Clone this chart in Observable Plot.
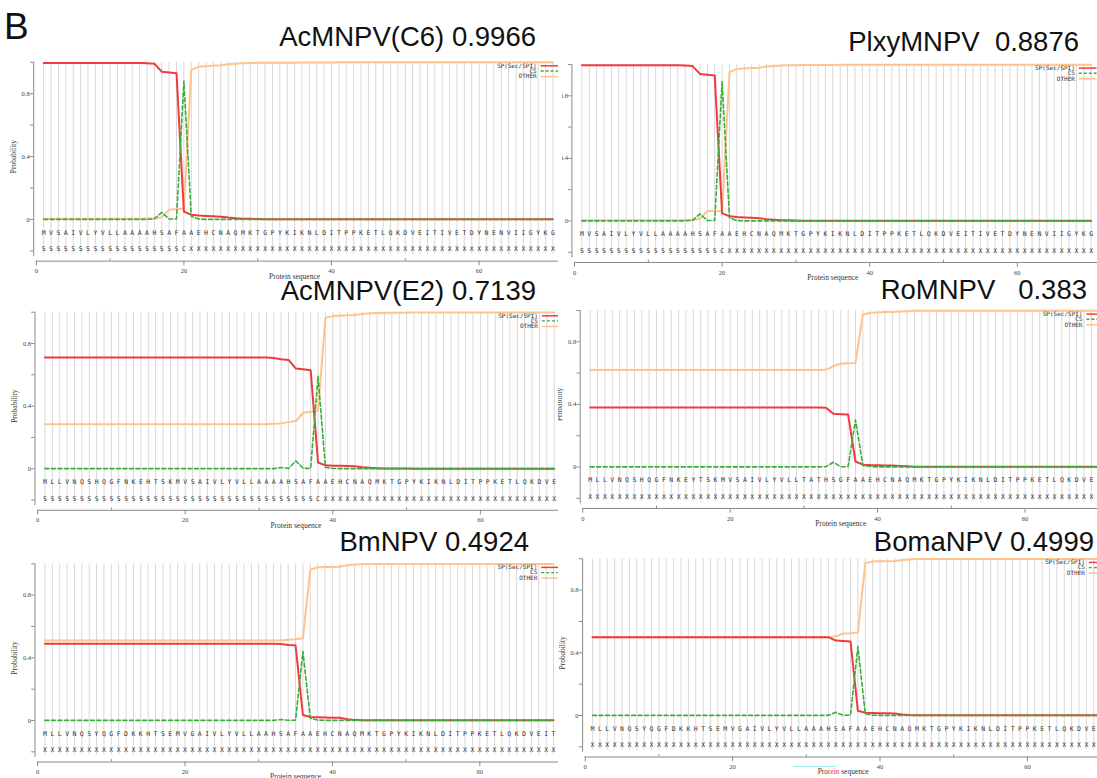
<!DOCTYPE html>
<html><head><meta charset="utf-8">
<script src="https://cdn.jsdelivr.net/npm/d3@7"></script>
<script src="https://cdn.jsdelivr.net/npm/@observablehq/plot@0.6"></script>
<style>
body{margin:0;background:#fff;}
#fig{position:relative;width:1097px;height:778px;overflow:hidden;background:#fff;font-family:"Liberation Sans",Arial,sans-serif;}
.panel{position:absolute;overflow:hidden;}
.title{position:absolute;font-size:27.5px;line-height:20px;white-space:pre;color:#111;text-align:right;}
.letter{position:absolute;font-size:37px;line-height:37px;color:#111;}
</style></head><body><div id="fig"></div>
<script>
// ---------------- DATA ----------------
const positions = d3.range(1, 71);
const yTickValues = [-0.2, 0, 0.2, 0.4, 0.6, 0.8, 1.0];
const yTickLabels = ["", "0", "", "0.4", "", "0.8", ""];
const xMajorTicks = [0, 20, 40, 60];
const xMinorTicks = [10, 30, 50];
const legendLabels = ["SP(Sec/SPI)", "CS", "OTHER"];

const titles = ["AcMNPV(C6) 0.9966", "PlxyMNPV  0.8876", "AcMNPV(E2) 0.7139", "RoMNPV   0.383", "BmNPV 0.4924", "BomaNPV 0.4999"];

const seq1 = "MVSAIVLYVLLAAAAHSAFAAEHCNAQMKTGPYKIKNLDITPPKETLQKDVEITIVETDYNENVIIGYKG";
const ann1 = "SSSSSSSSSSSSSSSSSSSCXXXXXXXXXXXXXXXXXXXXXXXXXXXXXXXXXXXXXXXXXXXXXXXXXX";
const sp1 = [0.995,0.995,0.995,0.995,0.995,0.995,0.995,0.995,0.995,0.995,
 0.995,0.995,0.995,0.995,0.993,0.990,0.940,0.935,0.930,0.050,
 0.030,0.025,0.022,0.020,0.018,0.012,0.008,0.005,0.004,0.003,
 0.002,0.002,0.002,0.002,0.002,0.001,0.001,0.001,0.001,0.001,
 0.001,0.001,0.001,0.001,0.001,0.001,0.001,0.001,0.001,0.001,
 0.001,0.001,0.001,0.001,0.001,0.001,0.001,0.001,0.001,0.001,
 0.001,0.001,0.001,0.001,0.001,0.001,0.001,0.001,0.001,0.001];
const cs1 = [0.001,0.001,0.001,0.001,0.001,0.001,0.001,0.001,0.001,0.001,
 0.001,0.001,0.001,0.001,0.001,0.005,0.045,0.003,0.003,0.880,
 0.020,0.003,0.001,0.001,0.001,0.001,0.001,0.001,0.001,0.001,
 0.001,0.001,0.001,0.001,0.001,0.001,0.001,0.001,0.001,0.001,
 0.001,0.001,0.001,0.001,0.001,0.001,0.001,0.001,0.001,0.001,
 0.001,0.001,0.001,0.001,0.001,0.001,0.001,0.001,0.001,0.001,
 0.001,0.001,0.001,0.001,0.001,0.001,0.001,0.001,0.001,0.001];
const other1 = [0.004,0.004,0.004,0.004,0.004,0.004,0.004,0.004,0.004,0.004,
 0.004,0.004,0.004,0.004,0.006,0.005,0.015,0.062,0.067,0.070,
 0.950,0.972,0.975,0.978,0.980,0.987,0.990,0.994,0.995,0.996,
 0.997,0.997,0.997,0.997,0.997,0.998,0.998,0.998,0.998,0.998,
 0.999,0.999,0.999,0.999,0.999,0.999,0.999,0.999,0.999,0.999,
 0.999,0.999,0.999,0.999,0.999,0.999,0.999,0.999,0.999,0.999,
 0.999,0.999,0.999,0.999,0.999,0.999,0.999,0.999,0.999,0.999];

const seq2 = "MVSAIVLYVLLAAAAHSAFAAEHCNAQMKTGPYKIKNLDITPPKETLQKDVEITIVETDYNENVIIGYKG";
const ann2 = "SSSSSSSSSSSSSSSSSSSCXXXXXXXXXXXXXXXXXXXXXXXXXXXXXXXXXXXXXXXXXXXXXXXXXX";
const sp2 = [0.995,0.995,0.995,0.995,0.995,0.995,0.995,0.995,0.995,0.995,
 0.995,0.995,0.995,0.995,0.993,0.990,0.940,0.935,0.930,0.050,
 0.030,0.025,0.022,0.020,0.018,0.012,0.008,0.005,0.004,0.003,
 0.002,0.002,0.002,0.002,0.002,0.001,0.001,0.001,0.001,0.001,
 0.001,0.001,0.001,0.001,0.001,0.001,0.001,0.001,0.001,0.001,
 0.001,0.001,0.001,0.001,0.001,0.001,0.001,0.001,0.001,0.001,
 0.001,0.001,0.001,0.001,0.001,0.001,0.001,0.001,0.001,0.001];
const cs2 = [0.001,0.001,0.001,0.001,0.001,0.001,0.001,0.001,0.001,0.001,
 0.001,0.001,0.001,0.001,0.001,0.005,0.045,0.003,0.003,0.890,
 0.020,0.003,0.001,0.001,0.001,0.001,0.001,0.001,0.001,0.001,
 0.001,0.001,0.001,0.001,0.001,0.001,0.001,0.001,0.001,0.001,
 0.001,0.001,0.001,0.001,0.001,0.001,0.001,0.001,0.001,0.001,
 0.001,0.001,0.001,0.001,0.001,0.001,0.001,0.001,0.001,0.001,
 0.001,0.001,0.001,0.001,0.001,0.001,0.001,0.001,0.001,0.001];
const other2 = [0.004,0.004,0.004,0.004,0.004,0.004,0.004,0.004,0.004,0.004,
 0.004,0.004,0.004,0.004,0.006,0.005,0.015,0.062,0.067,0.060,
 0.950,0.972,0.975,0.978,0.980,0.987,0.990,0.994,0.995,0.996,
 0.997,0.997,0.997,0.997,0.997,0.998,0.998,0.998,0.998,0.998,
 0.999,0.999,0.999,0.999,0.999,0.999,0.999,0.999,0.999,0.999,
 0.999,0.999,0.999,0.999,0.999,0.999,0.999,0.999,0.999,0.999,
 0.999,0.999,0.999,0.999,0.999,0.999,0.999,0.999,0.999,0.999];

const seq3 = "MLLVNQSHQGFNKEHTSKMVSAIVLYVLLAAAAHSAFAAEHCNAQMKTGPYKIKNLDITPPKETLQKDVE";
const ann3 = "SSSSSSSSSSSSSSSSSSSSSSSSSSSSSSSSSSSSSCXXXXXXXXXXXXXXXXXXXXXXXXXXXXXXXX";
const sp3 = [0.710,0.710,0.710,0.710,0.710,0.710,0.710,0.710,0.710,0.710,
 0.710,0.710,0.710,0.710,0.710,0.710,0.710,0.710,0.710,0.710,
 0.710,0.710,0.710,0.710,0.710,0.710,0.710,0.710,0.710,0.710,
 0.710,0.708,0.700,0.695,0.640,0.635,0.630,0.040,0.022,0.020,
 0.019,0.018,0.017,0.010,0.006,0.004,0.002,0.002,0.002,0.002,
 0.001,0.001,0.001,0.001,0.001,0.001,0.001,0.001,0.001,0.001,
 0.001,0.001,0.001,0.001,0.001,0.001,0.001,0.001,0.001,0.001];
const cs3 = [0.001,0.001,0.001,0.001,0.001,0.001,0.001,0.001,0.001,0.001,
 0.001,0.001,0.001,0.001,0.001,0.001,0.001,0.001,0.001,0.001,
 0.001,0.001,0.001,0.001,0.001,0.001,0.001,0.001,0.001,0.001,
 0.001,0.001,0.008,0.003,0.050,0.003,0.003,0.590,0.010,0.002,
 0.001,0.001,0.001,0.001,0.001,0.001,0.001,0.001,0.001,0.001,
 0.001,0.001,0.001,0.001,0.001,0.001,0.001,0.001,0.001,0.001,
 0.001,0.001,0.001,0.001,0.001,0.001,0.001,0.001,0.001,0.001];
const other3 = [0.285,0.285,0.285,0.285,0.285,0.285,0.285,0.285,0.285,0.285,
 0.285,0.285,0.285,0.285,0.285,0.285,0.285,0.285,0.285,0.285,
 0.285,0.285,0.285,0.285,0.285,0.285,0.285,0.285,0.285,0.285,
 0.285,0.287,0.290,0.298,0.305,0.358,0.365,0.370,0.965,0.975,
 0.978,0.980,0.982,0.988,0.993,0.995,0.997,0.997,0.997,0.997,
 0.998,0.998,0.998,0.998,0.998,0.998,0.998,0.998,0.998,0.998,
 0.998,0.998,0.998,0.998,0.998,0.998,0.998,0.998,0.998,0.998];

const seq4 = "MLLVNQSHQGFNKEYTSKMVSAIVLYVLLTATHSGFAAEHCNAQMKTGPYKIKNLDITPPKETLQKDVEI";
const ann4 = "XXXXXXXXXXXXXXXXXXXXXXXXXXXXXXXXXXXXXXXXXXXXXXXXXXXXXXXXXXXXXXXXXXXXXX";
const sp4 = [0.380,0.380,0.380,0.380,0.380,0.380,0.380,0.380,0.380,0.380,
 0.380,0.380,0.380,0.380,0.380,0.380,0.380,0.380,0.380,0.380,
 0.380,0.380,0.380,0.380,0.380,0.380,0.380,0.380,0.380,0.380,
 0.380,0.380,0.378,0.340,0.337,0.335,0.035,0.015,0.012,0.011,
 0.010,0.009,0.006,0.004,0.002,0.002,0.002,0.002,0.002,0.001,
 0.001,0.001,0.001,0.001,0.001,0.001,0.001,0.001,0.001,0.001,
 0.001,0.001,0.001,0.001,0.001,0.001,0.001,0.001,0.001,0.001];
const cs4 = [0.001,0.001,0.001,0.001,0.001,0.001,0.001,0.001,0.001,0.001,
 0.001,0.001,0.001,0.001,0.001,0.001,0.001,0.001,0.001,0.001,
 0.001,0.001,0.001,0.001,0.001,0.001,0.001,0.001,0.001,0.001,
 0.001,0.001,0.002,0.030,0.002,0.002,0.300,0.010,0.003,0.001,
 0.001,0.001,0.001,0.001,0.001,0.001,0.001,0.001,0.001,0.001,
 0.001,0.001,0.001,0.001,0.001,0.001,0.001,0.001,0.001,0.001,
 0.001,0.001,0.001,0.001,0.001,0.001,0.001,0.001,0.001,0.001];
const other4 = [0.620,0.620,0.620,0.620,0.620,0.620,0.620,0.620,0.620,0.620,
 0.620,0.620,0.620,0.620,0.620,0.620,0.620,0.620,0.620,0.620,
 0.620,0.620,0.620,0.620,0.620,0.620,0.620,0.620,0.620,0.620,
 0.620,0.620,0.621,0.645,0.660,0.663,0.665,0.975,0.985,0.987,
 0.990,0.991,0.994,0.996,0.998,0.998,0.998,0.998,0.998,0.998,
 0.999,0.999,0.999,0.999,0.999,0.999,0.999,0.999,0.999,0.999,
 0.999,0.999,0.999,0.999,0.999,0.999,0.999,0.999,0.999,0.999];

const seq5 = "MLLVNQSYQGFDKKHTSEMVGAIVLYVLLAAHSAFAAEHCNAQMKTGPYKIKNLDITPPKETLQKDVEIT";
const ann5 = "XXXXXXXXXXXXXXXXXXXXXXXXXXXXXXXXXXXXXXXXXXXXXXXXXXXXXXXXXXXXXXXXXXXXXX";
const sp5 = [0.490,0.490,0.490,0.490,0.490,0.490,0.490,0.490,0.490,0.490,
 0.490,0.490,0.490,0.490,0.490,0.490,0.490,0.490,0.490,0.490,
 0.490,0.490,0.490,0.490,0.490,0.490,0.490,0.490,0.490,0.490,
 0.490,0.490,0.488,0.482,0.480,0.035,0.022,0.020,0.019,0.018,
 0.017,0.008,0.004,0.002,0.002,0.002,0.002,0.001,0.001,0.001,
 0.001,0.001,0.001,0.001,0.001,0.001,0.001,0.001,0.001,0.001,
 0.001,0.001,0.001,0.001,0.001,0.001,0.001,0.001,0.001,0.001];
const cs5 = [0.001,0.001,0.001,0.001,0.001,0.001,0.001,0.001,0.001,0.001,
 0.001,0.001,0.001,0.001,0.001,0.001,0.001,0.001,0.001,0.001,
 0.001,0.001,0.001,0.001,0.001,0.001,0.001,0.001,0.001,0.001,
 0.001,0.001,0.006,0.002,0.002,0.440,0.015,0.003,0.001,0.001,
 0.001,0.001,0.001,0.001,0.001,0.001,0.001,0.001,0.001,0.001,
 0.001,0.001,0.001,0.001,0.001,0.001,0.001,0.001,0.001,0.001,
 0.001,0.001,0.001,0.001,0.001,0.001,0.001,0.001,0.001,0.001];
const other5 = [0.510,0.510,0.510,0.510,0.510,0.510,0.510,0.510,0.510,0.510,
 0.510,0.510,0.510,0.510,0.510,0.510,0.510,0.510,0.510,0.510,
 0.510,0.510,0.510,0.510,0.510,0.510,0.510,0.510,0.510,0.510,
 0.510,0.510,0.510,0.515,0.518,0.525,0.963,0.977,0.979,0.980,
 0.981,0.990,0.995,0.997,0.998,0.998,0.998,0.998,0.998,0.998,
 0.999,0.999,0.999,0.999,0.999,0.999,0.999,0.999,0.999,0.999,
 0.999,0.999,0.999,0.999,0.999,0.999,0.999,0.999,0.999,0.999];

const seq6 = "MLLVNQSYQGFDKKHTSEMVGAIVLYVLLAAAHSAFAAEHCNAQMKTGPYKIKNLDITPPKETLQKDVEI";
const ann6 = "XXXXXXXXXXXXXXXXXXXXXXXXXXXXXXXXXXXXXXXXXXXXXXXXXXXXXXXXXXXXXXXXXXXXXX";
const sp6 = [0.500,0.500,0.500,0.500,0.500,0.500,0.500,0.500,0.500,0.500,
 0.500,0.500,0.500,0.500,0.500,0.500,0.500,0.500,0.500,0.500,
 0.500,0.500,0.500,0.500,0.500,0.500,0.500,0.500,0.500,0.500,
 0.500,0.500,0.500,0.478,0.475,0.473,0.030,0.018,0.016,0.015,
 0.014,0.013,0.006,0.003,0.002,0.002,0.002,0.001,0.001,0.001,
 0.001,0.001,0.001,0.001,0.001,0.001,0.001,0.001,0.001,0.001,
 0.001,0.001,0.001,0.001,0.001,0.001,0.001,0.001,0.001,0.001];
const cs6 = [0.001,0.001,0.001,0.001,0.001,0.001,0.001,0.001,0.001,0.001,
 0.001,0.001,0.001,0.001,0.001,0.001,0.001,0.001,0.001,0.001,
 0.001,0.001,0.001,0.001,0.001,0.001,0.001,0.001,0.001,0.001,
 0.001,0.001,0.001,0.020,0.002,0.002,0.440,0.010,0.002,0.001,
 0.001,0.001,0.001,0.001,0.001,0.001,0.001,0.001,0.001,0.001,
 0.001,0.001,0.001,0.001,0.001,0.001,0.001,0.001,0.001,0.001,
 0.001,0.001,0.001,0.001,0.001,0.001,0.001,0.001,0.001,0.001];
const other6 = [0.500,0.500,0.500,0.500,0.500,0.500,0.500,0.500,0.500,0.500,
 0.500,0.500,0.500,0.500,0.500,0.500,0.500,0.500,0.500,0.500,
 0.500,0.500,0.500,0.500,0.500,0.500,0.500,0.500,0.500,0.500,
 0.500,0.500,0.500,0.505,0.523,0.525,0.530,0.972,0.982,0.984,
 0.985,0.986,0.993,0.996,0.998,0.998,0.998,0.998,0.998,0.998,
 0.999,0.999,0.999,0.999,0.999,0.999,0.999,0.999,0.999,0.999,
 0.999,0.999,0.999,0.999,0.999,0.999,0.999,0.999,0.999,0.999];

// ---------------- LAYOUT / STYLE ----------------
const RED = "#f03a3f", GREEN = "#3aad3a", ORANGE = "#fdc48e", AXIS = "#8a8a8a", GRID = "#d8d8d8";
const SERIF = "Liberation Serif, Times New Roman, serif";
const MONO = "DejaVu Sans Mono, monospace";

const panels = [
  {seq: seq1, ann: ann1, sp: sp1, cs: cs1, other: other1, title: titles[0], yLabel: true,
   box: {L: 0, T: 50, W: 558, H: 232}, x0: 35.8, xs: 7.38, ytop: 61.7, yzero: 219, tRight: 536, tCy: 36.7},
  {seq: seq2, ann: ann2, sp: sp2, cs: cs2, other: other2, title: titles[1], yLabel: false,
   box: {L: 562, T: 50, W: 535, H: 232}, x0: 574, xs: 7.38, ytop: 64, yzero: 220.5, tRight: 1079, tCy: 41.7},
  {seq: seq3, ann: ann3, sp: sp3, cs: cs3, other: other3, title: titles[2], yLabel: true,
   box: {L: 0, T: 282, W: 558, H: 248}, x0: 37.1, xs: 7.38, ytop: 311.7, yzero: 468.3, tRight: 536, tCy: 291},
  {seq: seq4, ann: ann4, sp: sp4, cs: cs4, other: other4, title: titles[3], yLabel: true,
   box: {L: 558, T: 282, W: 539, H: 248}, x0: 582.3, xs: 7.37, ytop: 310, yzero: 466.5, tRight: 1087, tCy: 290},
  {seq: seq5, ann: ann5, sp: sp5, cs: cs5, other: other5, title: titles[4], yLabel: true,
   box: {L: 0, T: 530, W: 558, H: 248}, x0: 37.1, xs: 7.37, ytop: 563.3, yzero: 720, tRight: 529, tCy: 541.7},
  {seq: seq6, ann: ann6, sp: sp6, cs: cs6, other: other6, title: titles[5], yLabel: true,
   box: {L: 558, T: 530, W: 539, H: 248}, x0: 584.7, xs: 7.37, ytop: 558.3, yzero: 715, tRight: 1094, tCy: 541.7, special: true}
];

const fig = document.getElementById("fig");
const B = document.createElement("div");
B.className = "letter"; B.textContent = "B";
B.style.left = "4px"; B.style.top = "8px";
fig.appendChild(B);

const AX = -0.35, AY = -0.265;

panels.forEach((p) => {
  const {L, T, W, H} = p.box;
  const rows = positions.map((pos, i) => ({pos, sp: p.sp[i], cs: p.cs[i], other: p.other[i]}));
  const seqRows = positions.map((pos, i) => ({pos, ch: p.seq[i]}));
  const annRows = positions.map((pos, i) => ({pos, ch: p.ann[i]}));
  const yTicks = yTickValues.map((v, i) => ({v, label: yTickLabels[i]}));
  const marks = [
    Plot.ruleX(positions, {x: d => d, y1: -0.22, y2: 1.0, stroke: GRID, strokeWidth: 1}),
    Plot.ruleX([AX], {x: d => d, y1: -0.235, y2: 1.0, stroke: AXIS}),
    Plot.ruleY(yTicks, {y: "v", x1: AX - 0.45, x2: AX, stroke: AXIS}),
    Plot.text(yTicks, {x: AX, y: "v", text: "label", textAnchor: "end", dx: -4, fontSize: 6.5, fontFamily: SERIF, fill: "#444"}),
    Plot.ruleY([AY], {y: d => d, x1: 0, x2: 72, stroke: AXIS}),
    Plot.ruleX(xMajorTicks, {x: d => d, y1: AY, y2: AY - 0.03, stroke: AXIS}),
    Plot.ruleX(xMinorTicks, {x: d => d, y1: AY, y2: AY + 0.015, stroke: AXIS}),
    Plot.text(xMajorTicks, {x: d => d, y: AY, dy: 10, text: d => String(d), fontSize: 6.5, fontFamily: SERIF, fill: "#444"}),
    Plot.text(["Protein sequence"], {x: 35, y: AY, dy: 15, text: d => d, fontSize: 7.5, fontFamily: SERIF, fill: "#333"}),
    Plot.line(rows, {x: "pos", y: "other", stroke: ORANGE, strokeWidth: 2}),
    Plot.line(rows, {x: "pos", y: "sp", stroke: RED, strokeWidth: 2}),
    Plot.line(rows, {x: "pos", y: "cs", stroke: GREEN, strokeWidth: 1.6, strokeDasharray: "4,2.5"}),
    Plot.text(seqRows, {x: "pos", y: -0.085, text: "ch", fontSize: 6.5, fontFamily: MONO, fill: "#333"}),
    Plot.text(annRows, {x: "pos", y: -0.19, text: "ch", fontSize: 6.5, fontFamily: MONO, fill: "#333"}),
    Plot.text(legendLabels, {x: 67.8, y: [0.977, 0.944, 0.909], text: d => d, textAnchor: "end", fontSize: 6, fontFamily: MONO, fill: "#333"}),
    Plot.ruleY([0.977], {y: d => d, x1: 68.4, x2: 70.8, stroke: RED, strokeWidth: 1.5}),
    Plot.ruleY([0.944], {y: d => d, x1: 68.4, x2: 70.8, stroke: GREEN, strokeWidth: 1.3, strokeDasharray: "3,2"}),
    Plot.ruleY([0.909], {y: d => d, x1: 68.4, x2: 70.8, stroke: ORANGE, strokeWidth: 1.5})
  ];
  if (p.yLabel) {
    marks.push(Plot.text(["Probability"], {x: -3.1, y: 0.4, text: d => d, rotate: -90, fontSize: 7.5, fontFamily: SERIF, fill: "#333"}));
  }
  if (p.special) {
    marks.push(Plot.ruleY([-0.325], {y: d => d, x1: 28.3, x2: 34.2, stroke: "#9eeef5", strokeWidth: 1}));
  }
  const svg = Plot.plot({
    width: W, height: H,
    marginLeft: 0, marginRight: 0, marginTop: 0, marginBottom: 0,
    x: {type: "linear", domain: [0, 70], range: [p.x0 - L, p.x0 + 70 * p.xs - L], axis: null},
    y: {type: "linear", domain: [0, 1], range: [p.yzero - T, p.ytop - T], axis: null},
    style: {background: "transparent"},
    marks
  });
  if (p.special) {
    d3.select(svg).selectAll("text").filter(function () { return this.textContent === "Protein sequence"; })
      .each(function () {
        const t = d3.select(this);
        t.text(null);
        t.append("tspan").text("Pro");
        t.append("tspan").attr("fill", "#e8353b").text("tein");
        t.append("tspan").text(" sequence");
      });
  }
  const div = document.createElement("div");
  div.className = "panel";
  div.style.left = L + "px"; div.style.top = T + "px";
  div.style.width = W + "px"; div.style.height = H + "px";
  div.appendChild(svg);
  fig.appendChild(div);

  const t = document.createElement("div");
  t.className = "title";
  t.textContent = p.title;
  t.style.right = (1097 - p.tRight) + "px";
  t.style.top = (p.tCy - 9.7) + "px";
  fig.appendChild(t);
});
</script>
</body></html>
